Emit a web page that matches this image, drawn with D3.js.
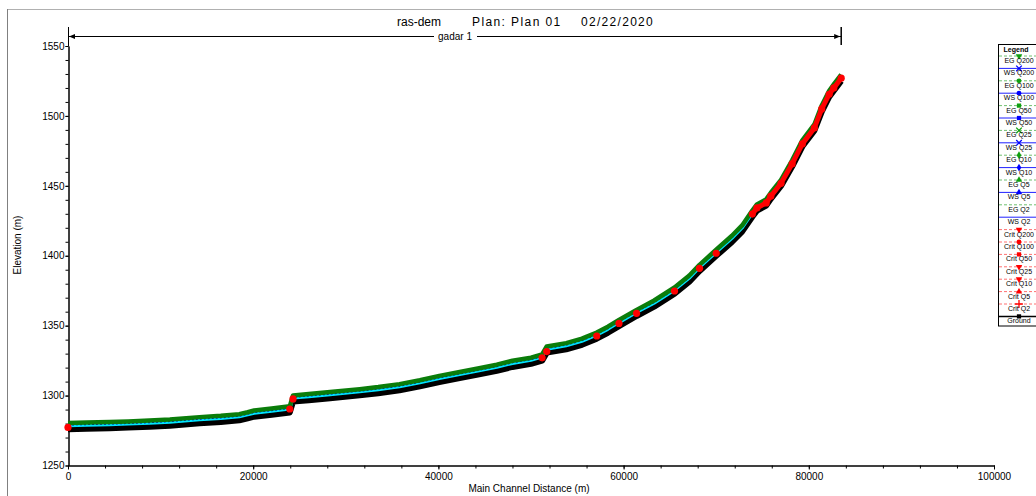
<!DOCTYPE html>
<html><head><meta charset="utf-8">
<script src="https://cdn.jsdelivr.net/npm/d3@7"></script>
<style>
body{margin:0;background:#fff}
svg{display:block}
text{font-family:"Liberation Sans",Arial,sans-serif;fill:#000}
</style>
</head><body>
<svg id="chart" width="1036" height="496"></svg>
<script>
// River station (main channel distance, m) and profile elevations (m)
const stations = [0,2000,4500,6500,8800,11000,14200,16500,18500,19400,20100,22000,23950,24300,26000,28300,31500,33500,35800,38000,40100,42300,44400,46300,48000,50000,51200,51700,53800,55500,57100,58300,59500,61400,63300,65500,67100,68200,70000,71700,72800,73900,74400,75400,75900,77000,78200,79300,80600,81400,82200,82700,83500];
const groundElev = [1276.0,1276.3,1276.7,1277.1,1277.7,1278.5,1280.2,1281.1,1282.3,1283.7,1284.9,1286.3,1287.9,1295.7,1296.7,1298.1,1300.2,1301.7,1303.8,1306.6,1309.7,1312.5,1315.2,1317.7,1320.5,1322.7,1325.0,1330.7,1333.1,1336.3,1340.7,1344.9,1349.7,1356.9,1363.6,1372.9,1381.5,1389.1,1399.9,1409.9,1417.3,1427.9,1432.3,1435.9,1440.7,1449.9,1463.8,1478.1,1489.5,1503.1,1513.6,1518.1,1525.1];
const wsElev = [1278.5,1278.8,1279.2,1279.6,1280.2,1281.0,1282.7,1283.6,1284.8,1286.2,1287.4,1288.8,1290.4,1298.2,1299.2,1300.6,1302.7,1304.2,1306.3,1309.1,1312.2,1315.0,1317.7,1320.2,1323.0,1325.2,1327.5,1333.2,1335.6,1338.8,1343.2,1347.4,1352.2,1359.4,1366.1,1375.4,1384.0,1391.6,1402.4,1412.4,1419.8,1430.4,1434.8,1438.4,1443.2,1452.4,1466.3,1480.6,1492.0,1505.6,1516.1,1520.6,1527.6];
const egElev = [1280.4,1280.7,1281.1,1281.5,1282.1,1282.9,1284.6,1285.5,1286.7,1288.1,1289.3,1290.7,1292.3,1300.1,1301.1,1302.5,1304.6,1306.1,1308.2,1311.0,1314.1,1316.9,1319.6,1322.1,1324.9,1327.1,1329.4,1335.1,1337.5,1340.7,1345.1,1349.3,1354.1,1361.3,1368.0,1377.3,1385.9,1393.5,1404.3,1414.3,1421.7,1432.3,1436.7,1440.3,1445.1,1454.3,1468.2,1482.5,1493.9,1507.5,1518.0,1522.5,1529.5];
// Critical water surface, shown where it rises to the profile (null elsewhere)
const critElev = [1277.2,null,null,null,null,null,null,null,null,null,null,null,1290.4,1297.6,null,null,null,null,null,null,null,null,null,null,null,null,1327.0,1331.5,null,null,1342.6,null,1351.6,1358.8,null,1374.8,null,1391.0,1401.8,null,null,1429.8,1434.2,1437.8,1442.6,1451.8,1465.7,1480.0,1491.4,1505.0,1515.5,1520.0,1527.0];

const xTicks = [0,20000,40000,60000,80000,100000];
const yTicks = [1250,1300,1350,1400,1450,1500,1550];
const legendLabels = ["EG Q200","WS Q200","EG Q100","WS Q100","EG Q50","WS Q50","EG Q25","WS Q25","EG Q10","WS Q10","EG Q5","WS Q5","EG Q2","WS Q2","Crit Q200","Crit Q100","Crit Q50","Crit Q25","Crit Q10","Crit Q5","Crit Q2","Ground"];
const reachName = "gadar 1";
const reachEnd = 83500;

const svg = d3.select("#chart");
const x = d3.scaleLinear().domain([0,100000]).range([68,994]);
const y = d3.scaleLinear().domain([1250,1550]).range([465.5,46]);

// outer frame
svg.append("line").attr("x1",7).attr("x2",1036).attr("y1",9.5).attr("y2",9.5).attr("stroke","#b0b0b0");
svg.append("line").attr("x1",7.5).attr("x2",7.5).attr("y1",9).attr("y2",496).attr("stroke","#808080");

// title
svg.append("text").attr("x",397).attr("y",26).attr("font-size",12).text("ras-dem");
svg.append("text").attr("x",472).attr("y",26).attr("font-size",12).attr("letter-spacing",1.4).text("Plan: Plan 01");
svg.append("text").attr("x",581).attr("y",26).attr("font-size",12).attr("letter-spacing",1.3).text("02/22/2020");

// axes
const gx = svg.append("g").attr("transform","translate(0,465.5)");
gx.call(d3.axisBottom(x).tickValues(d3.range(0,100001,4000)).tickSize(3).tickSizeOuter(0).tickFormat(""));
gx.call(g=>g.append("g").call(d3.axisBottom(x).tickValues(xTicks).tickSize(4).tickSizeOuter(0).tickFormat(d3.format("d"))));
gx.selectAll("text").attr("font-size",10).attr("font-family","Liberation Sans, Arial").attr("fill","#000").attr("dy","0.75em").attr("y",7);
gx.selectAll("path,line").attr("stroke","#000");

const gy = svg.append("g").attr("transform","translate(68.5,0)");
gy.call(d3.axisLeft(y).tickValues(d3.range(1250,1551,10)).tickSize(3).tickSizeOuter(0).tickFormat(""));
gy.call(g=>g.append("g").call(d3.axisLeft(y).tickValues(yTicks).tickSize(3).tickPadding(1).tickSizeOuter(0).tickFormat(d3.format("d"))));
gy.selectAll("text").attr("font-size",10).attr("font-family","Liberation Sans, Arial").attr("fill","#000");
gy.selectAll("path,line").attr("stroke","#000");
svg.append("line").attr("x1",68.5).attr("x2",68.5).attr("y1",27).attr("y2",46).attr("stroke","#000");

svg.append("text").attr("transform","translate(21,245) rotate(-90)").attr("text-anchor","middle").attr("font-size",10).text("Elevation (m)");
svg.append("text").attr("x",529).attr("y",492).attr("text-anchor","middle").attr("font-size",10).text("Main Channel Distance (m)");

// reach bar
const ry = 36.5, rx0 = x(0), rx1 = x(reachEnd);
const rl = svg.append("g");
rl.append("line").attr("x1",rx0).attr("x2",434).attr("y1",ry).attr("y2",ry).attr("stroke","#000");
rl.append("line").attr("x1",477).attr("x2",rx1).attr("y1",ry).attr("y2",ry).attr("stroke","#000");
rl.append("line").attr("x1",rx1).attr("x2",rx1).attr("y1",27).attr("y2",45).attr("stroke","#000").attr("stroke-width",1.5);
rl.append("path").attr("d",`M${rx0+1},${ry} l6,-2.5 l0,5 z`).attr("fill","#000");
rl.append("path").attr("d",`M${rx1-1},${ry} l-6,-2.5 l0,5 z`).attr("fill","#000");
rl.append("text").attr("x",455).attr("y",40).attr("text-anchor","middle").attr("font-size",10).text(reachName);

// profile lines
const pts = a => stations.map((s,i)=>[s,a[i]]);
const line = d3.line().defined(d=>d[1]!=null).x(d=>x(d[0])).y(d=>y(d[1]));
const plot = svg.append("g");
plot.append("path").attr("d",line(pts(groundElev))).attr("fill","none").attr("stroke","#000").attr("stroke-width",6).attr("stroke-linejoin","round");
plot.append("path").attr("d",line(pts(wsElev))).attr("fill","none").attr("stroke","#00e5ff").attr("stroke-width",3).attr("stroke-linejoin","round");
plot.append("path").attr("d",line(pts(wsElev.map(v=>v+0.5)))).attr("fill","none").attr("stroke","#0000d0").attr("stroke-width",1.2).attr("stroke-dasharray","2 2");
plot.append("path").attr("d",line(pts(egElev))).attr("fill","none").attr("stroke","#0a7d0a").attr("stroke-width",4.5).attr("stroke-linejoin","round");

// critical depth: continuous runs drawn as a line, isolated sections as markers only
const critPts = pts(critElev);
const runs = [];
let cur = [];
critPts.forEach(d=>{ if (d[1]!=null) cur.push(d); else { if (cur.length) runs.push(cur); cur=[]; } });
if (cur.length) runs.push(cur);
runs.filter(r=>r.length>=3).forEach(r=>{
  plot.append("path").attr("d",line(r)).attr("fill","none").attr("stroke","#ff0000").attr("stroke-width",5).attr("stroke-linejoin","round");
});
plot.selectAll("circle.crit").data(critPts.filter(d=>d[1]!=null)).join("circle")
  .attr("class","crit").attr("cx",d=>x(d[0])).attr("cy",d=>y(d[1])).attr("r",3.6).attr("fill","#ff0000");

// legend
const lg = svg.append("g");
lg.append("rect").attr("x",998.5).attr("y",44.5).attr("width",60).attr("height",281.5).attr("fill","#fff").attr("stroke","#000");
lg.append("text").attr("x",1016).attr("y",51.5).attr("text-anchor","middle").attr("font-size",7).attr("font-weight","bold").text("Legend");
const styleOf = lab => {
  if (lab.startsWith("EG")) return {c:"#10a010",lc:"#70c070",dash:"3 2"};
  if (lab.startsWith("WS")) return {c:"#0000ff",lc:"#2020ff",dash:null};
  if (lab.startsWith("Crit")) return {c:"#ff0000",lc:"#ff7070",dash:"3 2"};
  return {c:"#000",lc:"#000",dash:null};
};
const markerOf = ["tdown","times","circle","circle","square","square","times","times","diamond","diamond","tup","tup",null,null,"tdown","circle","square","tdown","tdown","tup","plus","square"];
const symTypes = {times:d3.symbolTimes,circle:d3.symbolCircle,square:d3.symbolSquare,tup:d3.symbolTriangle,tdown:d3.symbolTriangle,plus:d3.symbolPlus,diamond:d3.symbolDiamond};
legendLabels.forEach((lab,i)=>{
  const ly = 56 + i*12.4;
  const st = styleOf(lab);
  lg.append("line").attr("x1",999).attr("x2",1036).attr("y1",ly).attr("y2",ly)
    .attr("stroke",st.lc).attr("stroke-width",lab==="Ground"?1.5:1).attr("stroke-dasharray",st.dash);
  const m = markerOf[i];
  if (m) {
    const p = lg.append("path").attr("d",d3.symbol().type(symTypes[m]).size(m==="times"||m==="plus"?22:18)())
      .attr("transform",`translate(1019,${ly})${m==="tdown"?" rotate(180)":""}`);
    if (m==="times"||m==="plus") p.attr("fill","none").attr("stroke",st.c).attr("stroke-width",1.3);
    else p.attr("fill",st.c);
  }
  lg.append("text").attr("x",1019).attr("y",ly+7).attr("text-anchor","middle").attr("font-size",7).attr("fill","#222").text(lab);
});
</script>
</body></html>
